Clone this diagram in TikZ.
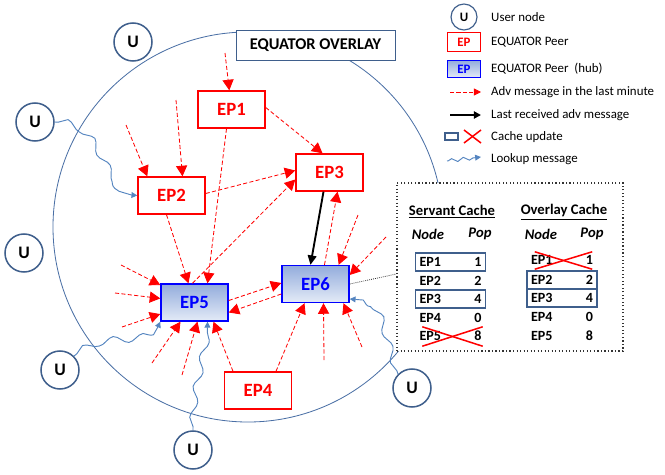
\documentclass[tikz,border=0pt]{standalone}
\usepackage{fontspec}
\setmainfont{Carlito}
\usetikzlibrary{arrows.meta,calc,decorations.pathmorphing}

\definecolor{peerred}{HTML}{FF0000}
\definecolor{hubblue}{HTML}{0000FF}
\definecolor{hubtop}{HTML}{93ACDC}
\definecolor{hubbottom}{HTML}{E4EBF7}
\definecolor{userblue}{HTML}{3F5F8C}
\definecolor{ringblue}{HTML}{4A6FA5}
\definecolor{lookblue}{HTML}{5585C0}

\begin{document}
\begin{tikzpicture}[x=0.03cm,y=-0.03cm,
    peer/.style={draw=peerred,line width=1.2pt,fill=white,minimum width=2.01cm,minimum height=1.11cm,inner sep=0pt,text=peerred,font=\fontsize{16}{16}\selectfont\bfseries},
    hub/.style={peer,draw=hubblue,top color=hubtop,bottom color=hubbottom,text=hubblue},
    user/.style={circle,draw=userblue,line width=1.3pt,fill=white,minimum size=1.14cm,inner sep=0pt,font=\fontsize{15}{15}\selectfont\bfseries},
    adv/.style={draw=peerred,dash pattern=on 3.5pt off 2pt,line width=0.7pt,-{Triangle[length=9pt,width=9.5pt]}},
    last/.style={draw=black,line width=1.6pt,-{Triangle[length=8pt,width=7.5pt]}},
    lookup/.style={draw=lookblue,line width=0.8pt,-{Triangle[length=5pt,width=5pt]},decorate,decoration={snake,amplitude=3pt,segment length=26pt,pre length=3pt,post length=5pt}},
    upd/.style={draw=userblue,line width=1.6pt},
    cross/.style={draw=peerred,line width=1.3pt},
    row/.style={text width=1.86cm,inner xsep=0.12cm,inner ysep=0pt,minimum height=0.54cm,font=\fontsize{12}{12}\selectfont\bfseries},
    head/.style={font=\fontsize{12.5}{12.5}\selectfont\bfseries\itshape},
    legend/.style={anchor=west,inner sep=0pt,font=\fontsize{11}{11}\selectfont}]
    \useasboundingbox (0,0) rectangle (665,475);

    % overlay ring and title
    \node[circle,draw=ringblue,line width=0.7pt,minimum size=11.7cm,inner sep=0pt] (overlay) at (248,227) {};
    \node[draw=userblue,line width=0.8pt,fill=white,minimum width=4.77cm,minimum height=0.9cm,font=\fontsize{14}{14}\selectfont\bfseries] (title) at (315.5,45) {EQUATOR OVERLAY};

    % peers
    \node[peer] (ep1) at (231.5,109.5) {EP1};
    \node[peer] (ep2) at (171.5,195.5) {EP2};
    \node[peer] (ep3) at (329.5,172.5) {EP3};
    \node[peer] (ep4) at (258,390.5) {EP4};
    \node[hub] (ep5) at (194.5,302.5) {EP5};
    \node[hub] (ep6) at (315.5,284) {EP6};

    % users
    \node[user] (u1) at (133,42) {U};
    \node[user] (u2) at (35,122) {U};
    \node[user] (u3) at (24,253) {U};
    \node[user] (u4) at (60,370) {U};
    \node[user] (u5) at (193,450) {U};
    \node[user] (u6) at (412,388) {U};

    % loose ends of adv messages
    \coordinate (f1) at (225,53);
    \coordinate (f2) at (126,125);
    \coordinate (f3) at (176,100);
    \coordinate (f4) at (358,215);
    \coordinate (f5) at (386,237);
    \coordinate (f6) at (324,360);
    \coordinate (f7) at (362,347);
    \coordinate (f8) at (121,265);
    \coordinate (f9) at (115,293);
    \coordinate (f10) at (122,327);
    \coordinate (f11) at (152,363);
    \coordinate (f12) at (182,375);

    \path (f1) edge[adv] (ep1);
    \path (f2) edge[adv] ($(ep2.north west)+(10,0)$);
    \path (f3) edge[adv] ($(ep2.north)+(11,0)$);
    \path ($(ep1.east)+(0,-2)$) edge[adv] ($(ep3.north)+(-7,0)$);
    \path ($(ep2.east)+(0,-2)$) edge[adv] ($(ep3.west)+(0,-2)$);
    \path ($(ep5.north)+(-2,0)$) edge[adv] ($(ep3.west)+(0,7)$);
    \path ($(ep2.south)+(-5,0)$) edge[adv] ($(ep5.north)+(-6,0)$);
    \path ($(ep1.south)+(-5,0)$) edge[adv] ($(ep5.north)+(13,0)$);
    \path ($(ep6.north)+(9,0)$) edge[adv] ($(ep3.south)+(8,0)$);
    \path (f4) edge[adv] ($(ep6.north east)+(-11,0)$);
    \path (f5) edge[adv] ($(ep6.east)+(0,-9)$);
    \path ($(ep4.north)+(18,0)$) edge[adv] ($(ep6.south)+(-11,0)$);
    \path (f6) edge[adv] ($(ep6.south)+(8,0)$);
    \path (f7) edge[adv] ($(ep6.south)+(28,0)$);
    \path ($(ep5.east)+(0,-2)$) edge[adv] ($(ep6.west)+(0,-1)$);
    \path ($(ep6.west)+(0,10)$) edge[adv] ($(ep5.east)+(0,10)$);
    \path (f8) edge[adv] (ep5);
    \path (f9) edge[adv] (ep5);
    \path (f10) edge[adv] (ep5);
    \path (f11) edge[adv] ($(ep5.south)+(-14,0)$);
    \path (f12) edge[adv] ($(ep5.south)+(3,0)$);
    \path ($(ep4.north)+(-25,0)$) edge[adv] ($(ep5.south)+(19,0)$);
    \path ($(ep3.south)+(-6,0)$) edge[last] ($(ep6.north)+(-5,0)$);

    % lookups
    \draw[lookup] (u2.east) to[out=0,in=180] (ep2.west);
    \draw[lookup] (u4.north east) to[out=40,in=-110] (ep5.south west);
    \draw[lookup] (u5.north) to[out=90,in=-90] ($(ep5.south)+(13,0)$);
    \draw[lookup] (u6.north west) to[out=110,in=0] ($(ep6.east)+(0,15)$);

    % caches
    \node[draw=black!80,dotted,line width=1pt,fill=white,minimum width=6.78cm,minimum height=5.04cm] (cache) at (510,267) {};
    \draw[black!80,densely dotted,line width=0.7pt] (ep6.east) -- ($(cache.west)+(0,7)$);

    \node[font=\fontsize{12.5}{12.5}\selectfont\bfseries] (shead) at (452,212) {\underline{Servant Cache}};
    \node[font=\fontsize{12.5}{12.5}\selectfont\bfseries] (ohead) at (564,212) {\underline{Overlay Cache}};
    \node[head] (snode) at (428,234) {Node};
    \node[head] (spop) at (480,234) {Pop};
    \node[head] (onode) at (541,234) {Node};
    \node[head] (opop) at (592,234) {Pop};

    \node[row,upd] (s1) at (450.5,262) {EP1\hfill 1};
    \node[row] (s2) at (450.5,281) {EP2\hfill 2};
    \node[row,upd] (s3) at (450.5,299) {EP3\hfill 4};
    \node[row] (s4) at (450.5,318) {EP4\hfill 0};
    \node[row] (s5) at (450.5,336) {EP5\hfill 8};

    \node[row] (o1) at (562,260) {EP1\hfill 1};
    \node[row,upd] (o2) at (562,280) {EP2\hfill 2};
    \node[row,upd] (o3) at (562,298) {EP3\hfill 4};
    \node[row] (o4) at (562,317) {EP4\hfill 0};
    \node[row] (o5) at (562,336) {EP5\hfill 8};

    \draw[cross] ($(s5.north west)+(7,0)$) -- ($(s5.south east)+(-3,1)$);
    \draw[cross] ($(s5.south west)+(7,1)$) -- ($(s5.north east)+(-3,0)$);
    \draw[cross] ($(o1.north west)+(8,1)$) -- ($(o1.south east)+(-5,0)$);
    \draw[cross] ($(o1.south west)+(8,0)$) -- ($(o1.north east)+(-5,1)$);

    % legend
    \node[user,minimum size=0.78cm,line width=1pt,font=\fontsize{11}{11}\selectfont\bfseries] (lu) at (464,17) {U};
    \node[peer,minimum width=0.99cm,minimum height=0.57cm,line width=1pt,font=\fontsize{11}{11}\selectfont\bfseries] (lp) at (464,42) {EP};
    \node[hub,minimum width=0.99cm,minimum height=0.52cm,line width=1pt,font=\fontsize{11}{11}\selectfont\bfseries] (lh) at (464,69) {EP};
    \coordinate (la1) at (450,92);
    \coordinate (la2) at (481,92);
    \coordinate (lb1) at (450,115);
    \coordinate (lb2) at (481,115);
    \node[upd,minimum width=0.39cm,minimum height=0.21cm,inner sep=0pt] (lbox) at (451.5,136.5) {};
    \coordinate (lx1) at (464,130);
    \coordinate (lx2) at (481,143);
    \coordinate (lw1) at (447,161);
    \coordinate (lw2) at (481,157);
    \path (la1) edge[adv,-{Triangle[length=6pt,width=6pt]}] (la2);
    \path (lb1) edge[last,-{Triangle[length=6pt,width=6pt]}] (lb2);
    \draw[cross] (lx1) -- (lx2);
    \draw[cross] (lx1 |- lx2) -- (lx2 |- lx1);
    \draw[lookup,decoration={snake,amplitude=1.5pt,segment length=10pt,pre length=1pt,post length=4pt}] (lw1) -- (lw2);

    \node[legend] (tu) at (491,17) {User node};
    \node[legend] (tp) at (491,42) {EQUATOR Peer};
    \node[legend] (th) at (491,69) {EQUATOR Peer\ \ (hub)};
    \node[legend] (ta) at (491,92) {Adv message in the last minute};
    \node[legend] (tb) at (491,115) {Last received adv message};
    \node[legend] (tc) at (491,137) {Cache update};
    \node[legend] (tl) at (491,159) {Lookup message};
\end{tikzpicture}
\end{document}
